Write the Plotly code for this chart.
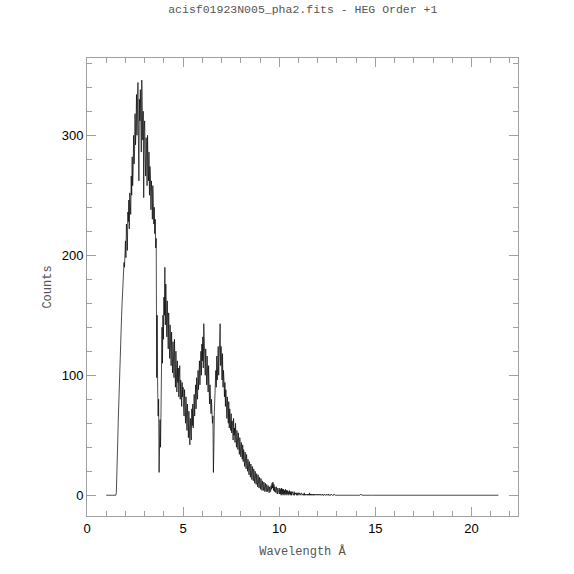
import numpy as np
import plotly.graph_objects as go

# HEG order +1 spectrum, counts per 0.025 A bin
wave_start = 1.0
bin_width = 0.025
counts = [
    # 1.0 - 1.475
    0, 0, 0, 0, 0, 0, 0, 0, 0, 0, 0, 0, 0, 0, 0, 0, 0, 0, 0, 0,
    # 1.5 - 1.975
    0, 2, 12, 28, 45, 62, 78, 92, 105, 118, 132, 142, 150, 160, 170, 176, 184, 194, 190, 204,
    # 2.0 - 2.475
    212, 198, 226, 218, 204, 236, 228, 246, 222, 252, 240, 234, 266, 250, 282, 258, 270, 300, 276, 288,
    # 2.5 - 2.975
    318, 292, 306, 334, 300, 322, 344, 296, 262, 330, 312, 338, 300, 286, 346, 318, 296, 320, 248, 304,
    # 3.0 - 3.475
    312, 282, 266, 298, 288, 258, 300, 276, 262, 286, 250, 274, 266, 238, 262, 252, 230, 258, 244, 226,
    # 3.5 - 3.975
    240, 218, 230, 206, 214, 98, 150, 90, 66, 80, 19, 45, 63, 40, 70, 100, 140, 110, 150, 130,
    # 4.0 - 4.475
    165, 150, 190, 142, 176, 158, 132, 162, 146, 122, 152, 136, 114, 142, 124, 108, 136, 118, 102, 128,
    # 4.5 - 4.975
    112, 98, 130, 104, 90, 120, 100, 86, 112, 94, 106, 82, 98, 108, 80, 96, 88, 74, 94, 82,
    # 5.0 - 5.475
    90, 72, 66, 88, 78, 60, 82, 68, 54, 76, 62, 48, 70, 58, 42, 64, 52, 46, 72, 58,
    # 5.5 - 5.975
    76, 56, 68, 84, 66, 78, 92, 72, 98, 86, 80, 104, 88, 96, 112, 92, 106, 120, 100, 126,
    # 6.0 - 6.475
    112, 132, 106, 143, 118, 126, 100, 122, 112, 92, 116, 104, 86, 108, 96, 76, 92, 84, 68, 80,
    # 6.5 - 6.975
    72, 60, 66, 19, 40, 70, 92, 80, 104, 90, 116, 96, 112, 124, 100, 120, 130, 143, 108, 124,
    # 7.0 - 7.475
    112, 96, 118, 90, 104, 96, 82, 94, 74, 88, 80, 64, 82, 70, 60, 78, 56, 72, 64, 54,
    # 7.5 - 7.975
    68, 52, 62, 58, 46, 64, 50, 56, 44, 60, 48, 40, 54, 46, 38, 52, 42, 34, 48, 40,
    # 8.0 - 8.475
    32, 44, 36, 30, 42, 28, 38, 32, 24, 36, 28, 22, 34, 26, 20, 30, 24, 17, 28, 22,
    # 8.5 - 8.975
    15, 26, 18, 13, 24, 16, 12, 22, 14, 10, 20, 13, 9, 18, 12, 7, 17, 10, 6, 15,
    # 9.0 - 9.475
    9, 5, 14, 8, 4, 12, 7, 4, 11, 6, 3, 10, 6, 3, 9, 5, 3, 8, 4, 2,
    # 9.5 - 9.975
    7, 4, 3, 8, 5, 10, 6, 11, 4, 9, 3, 7, 5, 2, 7, 4, 1, 6, 3, 1,
    # 10.0 - 10.475
    1, 6, 1, 5, 0, 6, 1, 5, 0, 5, 1, 4, 0, 5, 1, 4, 0, 4, 1, 3,
    # 10.5 - 10.975
    0, 4, 1, 3, 0, 3, 0, 3, 1, 2, 0, 3, 0, 2, 1, 2, 0, 2, 0, 2,
    # 11.0 - 11.475
    2, 0, 2, 1, 1, 0, 2, 1, 1, 0, 1, 0, 2, 0, 1, 0, 1, 1, 0, 1,
    # 11.5 - 11.975
    0, 1, 0, 2, 0, 1, 0, 1, 0, 1, 0, 0, 1, 0, 1, 0, 0, 1, 0, 0,
    # 12.0 - 12.475
    1, 0, 0, 1, 0, 0, 1, 0, 0, 0, 1, 0, 0, 0, 1, 0, 0, 0, 0, 1,
    # 12.5 - 12.975
    0, 0, 0, 1, 0, 0, 0, 0, 1, 0, 0, 0, 0, 0, 1, 0, 0, 0, 0, 0,
]

# long flat tail out to the end of the spectrum
tail_wave = [13.5, 14.2, 14.25, 14.3, 14.8, 21.4]
tail_counts = [0, 0, 1, 0, 0, 0]

wave = list(wave_start + bin_width * np.arange(len(counts))) + tail_wave
cts = counts + tail_counts

axis_grey = "#a0a0a0"
label_font = dict(family="Liberation Mono", size=12, color="#555555")
tick_font = dict(family="Liberation Sans", size=13, color="black")

fig = go.Figure()
fig.add_trace(go.Scatter(x=wave, y=cts, mode="lines",
                         line=dict(color="black", width=0.7),
                         showlegend=False, hoverinfo="skip"))

fig.update_layout(
    width=574, height=574,
    margin=dict(l=87, r=56, t=58, b=58),
    paper_bgcolor="white", plot_bgcolor="white",
    title=dict(text="acisf01923N005_pha2.fits - HEG Order +1",
               x=0.5275, xanchor="center", y=0.985, yanchor="middle",
               font=dict(family="Liberation Mono", size=11.5, color="#555555")),
)

fig.update_xaxes(
    range=[0, 22.42], tickvals=[0, 5, 10, 15, 20],
    ticks="inside", ticklen=9, tickwidth=1, tickcolor=axis_grey,
    minor=dict(dtick=1, tick0=0, ticks="inside", ticklen=5, tickcolor=axis_grey),
    showline=True, linecolor=axis_grey, linewidth=1, mirror="allticks",
    showgrid=False, zeroline=False,
    tickfont=tick_font,
    title=dict(text="Wavelength Å", font=label_font, standoff=12),
)
fig.update_yaxes(
    range=[-17.3, 364.4], tickvals=[0, 100, 200, 300],
    ticks="inside", ticklen=9, tickwidth=1, tickcolor=axis_grey,
    minor=dict(dtick=20, tick0=0, ticks="inside", ticklen=5, tickcolor=axis_grey),
    showline=True, linecolor=axis_grey, linewidth=1, mirror="allticks",
    showgrid=False, zeroline=False,
    tickfont=tick_font,
    title=dict(text="Counts", font=label_font, standoff=7),
)

# drop the browser's default page margin so the figure sits at the window corner
fig.write_html("out.html", config={"displayModeBar": False},
               post_script="document.body.style.margin = '0';")
